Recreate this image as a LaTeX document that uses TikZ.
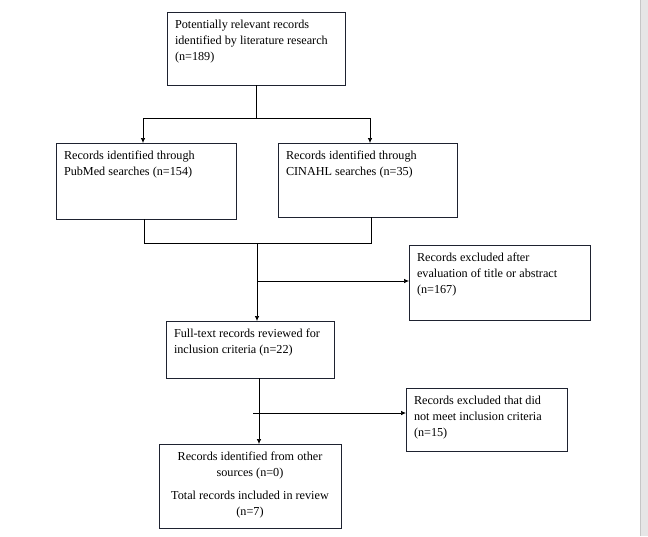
\documentclass[tikz,border=0pt]{standalone}
\usepackage{fontspec}
\setmainfont{Liberation Serif}
\usetikzlibrary{arrows.meta, positioning, calc}
\definecolor{inkbox}{HTML}{1E2230}
\definecolor{pagegrey}{HTML}{E6E6E6}
\definecolor{pageedge}{HTML}{C6C6C6}
\newcommand{\recbody}[4][\raggedright]{%
  \parbox[c][#3][t]{#2}{#1\strut #4}}

\begin{document}
\begin{tikzpicture}[x=1pt, y=-1pt, font=\fontsize{12.2}{16}\selectfont,
    recbox/.style={draw=inkbox, line width=0.8pt, anchor=north west,
      inner xsep=8pt, inner ysep=5.5pt, outer sep=0pt},
    flow/.style={draw=black, line width=0.7pt},
    arrow/.style={flow, -{Latex[length=5pt, width=4.5pt]}}]
  \useasboundingbox (0,0) rectangle (648,536);
  % page edge on the right
  \fill[pagegrey] (640,0) rectangle (648,536);
  \draw[pageedge, line width=0.8pt] (640.4,0) -- (640.4,536);

  \node[recbox] (found) at (167,12) {\recbody{162pt}{62pt}{Potentially relevant records\\
    identified by literature research\\(n=189)}};
  \node[recbox] (pubmed) at (56,143) {\recbody{164pt}{65pt}{Records identified through\\
    PubMed searches (n=154)}};
  \node[recbox] (cinahl) at (278,143) {\recbody{163pt}{63pt}{Records identified through\\
    CINAHL searches (n=35)}};
  \node[recbox] (excltitle) at (409,245) {\recbody{165pt}{64pt}{Records excluded after\\
    evaluation of title or abstract\\(n=167)}};
  \node[recbox] (fulltext) at (166,321) {\recbody{152pt}{46pt}{Full-text records reviewed for\\
    inclusion criteria (n=22)}};
  \node[recbox] (exclcrit) at (406,388) {\recbody{145pt}{52pt}{Records excluded that did\\
    not meet inclusion criteria\\(n=15)}};
  \node[recbox] (included) at (159,444) {\recbody[\centering]{166pt}{73pt}{Records identified from other\\
    sources (n=0)\\[7pt]Total records included in review\\(n=7)}};

  % split and merge
  \coordinate (split) at (found.south |- 0,118);
  \coordinate (merge) at (257,243);
  \draw[flow] (found.south) -- (split);
  \draw[arrow] (split) -| ($(pubmed.north)+(-3,0)$);
  \draw[arrow] (split) -| ($(cinahl.north)+(2.5,0)$);
  \draw[flow] ($(pubmed.south)+(-2,0)$) |- (merge);
  \draw[flow] ($(cinahl.south)+(3.5,0)$) |- (merge);
  \draw[arrow] (merge) -- (merge |- fulltext.north);
  \coordinate (branchtitle) at (257,281);
  \draw[arrow] (branchtitle) -- (branchtitle -| excltitle.west);

  % second exclusion step
  \coordinate (drop) at ($(fulltext.south)+(9,0)$);
  \draw[arrow] (drop) -- (drop |- included.north);
  \coordinate (branchcrit) at (253,413);
  \draw[arrow] (branchcrit) -- (branchcrit -| exclcrit.west);
\end{tikzpicture}
\end{document}
